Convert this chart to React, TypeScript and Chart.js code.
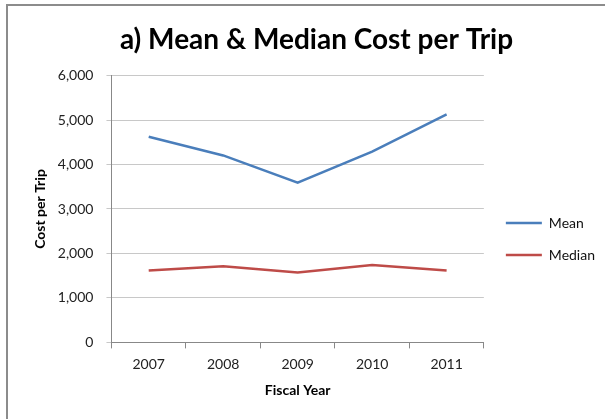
import React, { useEffect, useRef } from "react";
import { Chart, registerables } from "chart.js";

Chart.register(...registerables);

const years = ["2007", "2008", "2009", "2010", "2011"];
const meanCost = [4626, 4205, 3590, 4288, 5128];
const medianCost = [1615, 1712, 1570, 1743, 1615];

const FONT = "Lato, 'Open Sans', sans-serif";

const legendNudge = {
  id: "legendNudge",
  afterLayout(chart: any) {
    const l = chart.legend;
    if (l) {
      l.left += 4;
      l.right += 4;
    }
  },
};

export default function App() {
  const ref = useRef<HTMLCanvasElement | null>(null);

  useEffect(() => {
    document.body.style.margin = "0";
    const canvas = ref.current;
    if (!canvas) return;
    const chart = new Chart(canvas, {
      type: "line",
      data: {
        labels: years,
        datasets: [
          {
            label: "Mean",
            data: meanCost,
            borderColor: "#4a7ebb",
            backgroundColor: "#4a7ebb",
            borderWidth: 2.5,
            pointRadius: 0,
            pointStyle: "line",
            tension: 0,
          },
          {
            label: "Median",
            data: medianCost,
            borderColor: "#be4b48",
            backgroundColor: "#be4b48",
            borderWidth: 2.5,
            pointRadius: 0,
            pointStyle: "line",
            tension: 0,
          },
        ],
      },
      options: {
        responsive: false,
        animation: false,
        layout: { padding: { left: 32, right: 4, top: 0, bottom: 20 } },
        plugins: {
          title: {
            display: true,
            text: "a) Mean & Median Cost per Trip",
            color: "#000",
            font: { family: FONT, size: 28, weight: "bold" },
            padding: { top: 23, bottom: 19 },
          },
          legend: {
            position: "right",
            title: { display: true, text: " ", font: { size: 1 }, padding: { top: 78, bottom: 0 } },
            labels: {
              usePointStyle: true,
              pointStyleWidth: 36,
              color: "#111",
              font: { family: FONT, size: 14 },
              padding: 18,
            },
          },
          tooltip: { enabled: false },
        },
        scales: {
          x: {
            offset: true,
            grid: { offset: true, drawOnChartArea: false, tickLength: 6, color: "#888" },
            border: { color: "#888" },
            ticks: { color: "#222", font: { family: FONT, size: 14 }, padding: 8 },
            title: {
              display: true,
              text: "Fiscal Year",
              color: "#000",
              font: { family: FONT, size: 14, weight: "bold" },
              padding: { top: 1, bottom: 0 },
            },
          },
          y: {
            min: 0,
            max: 6000,
            ticks: { stepSize: 1000, color: "#222", font: { family: FONT, size: 14 }, padding: 13 },
            grid: { color: "#c8c8c8", tickLength: 5, lineWidth: 1 },
            border: { color: "#888" },
            title: {
              display: true,
              text: "Cost per Trip",
              color: "#000",
              font: { family: FONT, size: 14, weight: "bold" },
              padding: { top: 0, bottom: -4 },
            },
          },
        },
      },
      plugins: [legendNudge],
    });
    return () => chart.destroy();
  }, []);

  return (
    <div style={{ position: "relative", width: 605, height: 419, overflow: "hidden", background: "#fff" }}>
      <canvas ref={ref} width={605} height={419} style={{ display: "block" }} />
      <div
        style={{
          position: "absolute",
          left: 6,
          top: 4,
          width: 640,
          height: 460,
          borderTop: "2px solid #8c8c8c",
          borderLeft: "2px solid #8c8c8c",
          pointerEvents: "none",
        }}
      />
    </div>
  );
}
